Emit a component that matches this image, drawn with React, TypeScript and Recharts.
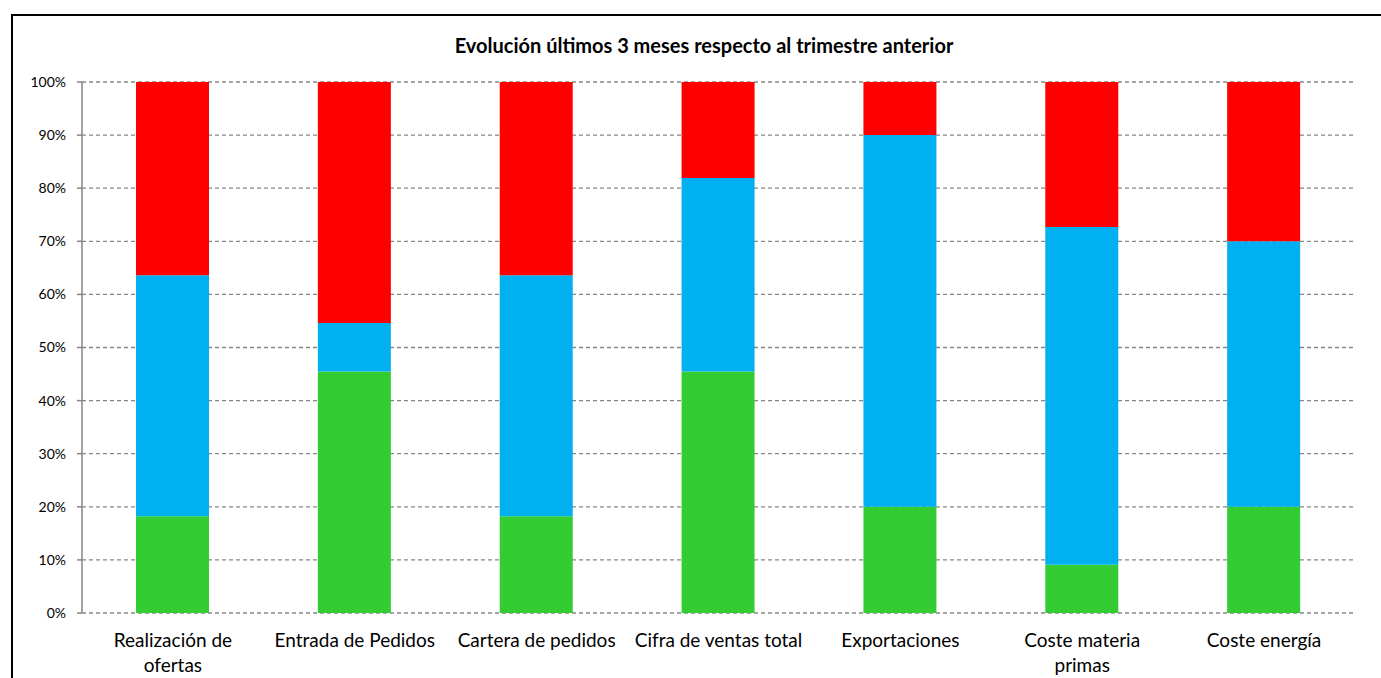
import { Bar, BarChart, CartesianGrid, XAxis, YAxis } from "recharts";

const GREEN = "#33CC33";
const BLUE = "#00B0F0";
const RED = "#FF0000";
const GRID = "#868686";
const FONT = "Lato, 'Open Sans', sans-serif";

const TITLE = "Evolución últimos 3 meses respecto al trimestre anterior";

// category labels, "\n" marks where the label wraps
const categories = [
  "Realización de\nofertas",
  "Entrada de Pedidos",
  "Cartera de pedidos",
  "Cifra de ventas total",
  "Exportaciones",
  "Coste materia\nprimas",
  "Coste energía",
];

// percent of answers per category
const mejor = [18.2, 45.5, 18.2, 45.5, 20, 9.1, 20];
const igual = [45.4, 9.1, 45.4, 36.4, 70, 63.6, 50];
const peor = [36.4, 45.4, 36.4, 18.1, 10, 27.3, 30];

const yTicks = [0, 10, 20, 30, 40, 50, 60, 70, 80, 90, 100];
const boundaryTicks = [0, 1, 2, 3, 4, 5, 6, 7];

const data = categories.map((name, i) => ({
  name,
  idx: i + 0.5,
  Mejor: mejor[i],
  Igual: igual[i],
  Peor: peor[i],
}));

function CategoryTick(props: any) {
  const { x, y, payload } = props;
  const lines = String(payload.value).split("\n");
  return (
    <text
      x={x}
      y={y}
      textAnchor="middle"
      fontFamily={FONT}
      fontSize={19}
      fill="#000"
    >
      {lines.map((line, i) => (
        <tspan key={i} x={x} dy={i === 0 ? 26 : 25}>
          {line}
        </tspan>
      ))}
    </text>
  );
}

export default function App() {
  return (
    <div style={{ position: "fixed", inset: 0, overflow: "hidden", background: "#fff" }}>
      <div
        style={{
          position: "absolute",
          left: 11,
          top: 14,
          width: 1400,
          height: 700,
          borderLeft: "2px solid #000",
          borderTop: "2px solid #000",
        }}
      >
        <div
          style={{
            position: "absolute",
            left: 0,
            top: 17,
            width: 1382,
            textAlign: "center",
            fontFamily: FONT,
            fontWeight: 700,
            fontSize: 20,
            color: "#000",
          }}
        >
          {TITLE}
        </div>
        <BarChart
          width={1368}
          height={662}
          data={data}
          margin={{ top: 66, right: 26, left: 0, bottom: 0 }}
          barSize={73}
        >
          <CartesianGrid
            horizontal
            vertical={false}
            stroke={GRID}
            strokeDasharray="4 3"
            strokeWidth={1.3}
          />
          <XAxis
            xAxisId="edges"
            type="number"
            dataKey="idx"
            domain={[0, 7]}
            ticks={boundaryTicks}
            tickFormatter={() => ""}
            height={0}
            tickSize={5}
            stroke={GRID}
            axisLine={{ stroke: GRID, strokeWidth: 1.5 }}
            tickLine={{ stroke: GRID, strokeWidth: 1.5 }}
          />
          <XAxis
            xAxisId="cat"
            dataKey="name"
            height={65}
            axisLine={false}
            tickLine={false}
            interval={0}
            tick={<CategoryTick />}
          />
          <YAxis
            domain={[0, 100]}
            ticks={yTicks}
            width={69}
            tickSize={5}
            tickMargin={11}
            interval={0}
            tickFormatter={(v: number) => `${v}%`}
            tick={{ fontFamily: FONT, fontSize: 14, fill: "#000" }}
            axisLine={{ stroke: GRID, strokeWidth: 1.5 }}
            tickLine={{ stroke: GRID, strokeWidth: 1.5 }}
          />
          <Bar xAxisId="cat" dataKey="Mejor" stackId="a" fill={GREEN} isAnimationActive={false} />
          <Bar xAxisId="cat" dataKey="Igual" stackId="a" fill={BLUE} isAnimationActive={false} />
          <Bar xAxisId="cat" dataKey="Peor" stackId="a" fill={RED} isAnimationActive={false} />
        </BarChart>
      </div>
    </div>
  );
}
